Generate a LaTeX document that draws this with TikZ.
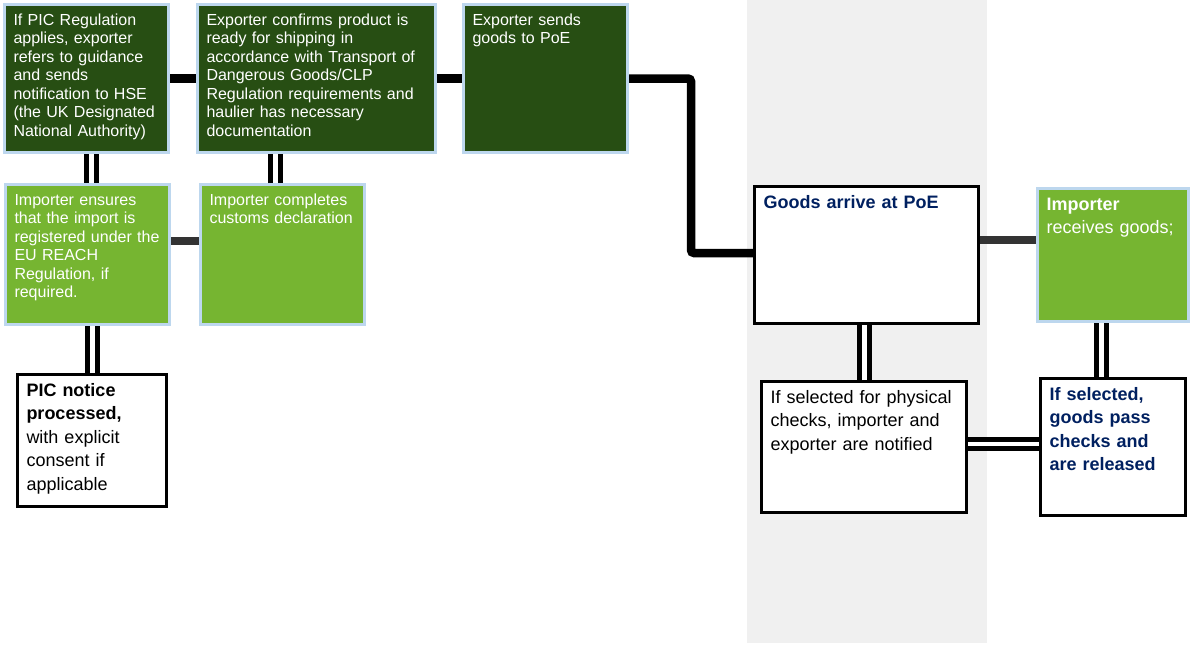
\documentclass[tikz,border=0pt]{standalone}
\usepackage{fontspec}
\setmainfont{Liberation Sans}
\usepackage{xcolor}
\usepackage{tikz}
\usetikzlibrary{positioning}
\definecolor{expgreen}{HTML}{274E13}
\definecolor{impgreen}{HTML}{76B531}
\definecolor{edgeblue}{HTML}{BDD7EE}
\definecolor{poeband}{HTML}{F0F0F0}
\definecolor{navytxt}{HTML}{002060}
\definecolor{linkgrey}{HTML}{333333}

\begin{document}
\begin{tikzpicture}[x=1pt, y=-1pt,
  stepbox/.style={anchor=north west, align=left, inner xsep=9pt, inner ysep=8.5pt,
                  line width=3pt},
  expbox/.style={stepbox, draw=edgeblue, fill=expgreen, text=white,
                 font=\fontsize{16}{18.5}\selectfont, text height=12pt},
  impbox/.style={stepbox, draw=edgeblue, fill=impgreen, text=white,
                 font=\fontsize{16}{18.5}\selectfont, text height=12pt},
  outbox/.style={stepbox, draw=black, fill=white,
                 font=\fontsize{18}{23.5}\selectfont, text height=13pt},
  link/.style={line width=8.5pt},
  twin/.style={line width=5pt, double=white, double distance=5pt},
]
  \useasboundingbox (0,0) rectangle (1190,648);
  \fill[poeband] (747,0) rectangle (987,643);

  % Exporter side
  \node[expbox, text width=146pt, text depth=119pt] (picreg) at (3,3)
    {If PIC Regulation\\ applies, exporter\\ refers to guidance\\ and sends\\
     notification to HSE\\ (the UK Designated\\ National Authority)};
  \node[expbox, text width=220pt, text depth=119pt] (confirm) at (196,3)
    {Exporter confirms product is\\ ready for shipping in\\
     accordance with Transport of\\ Dangerous Goods/CLP\\
     Regulation requirements and\\ haulier has necessary\\ documentation};
  \node[expbox, text width=146pt, text depth=119pt] (sends) at (462,3)
    {Exporter sends\\ goods to PoE};

  % Importer side
  \node[impbox, text width=146pt, text depth=111pt] (reach) at (4,183)
    {Importer ensures\\ that the import is\\ registered under the\\
     EU REACH\\ Regulation, if\\ required.};
  \node[impbox, text width=146pt, text depth=111pt] (customs) at (199,183)
    {Importer completes\\ customs declaration};
  \node[outbox, text width=131pt, text depth=102pt] (picnote) at (16,373)
    {\textbf{PIC notice}\\ \textbf{processed,}\\ with explicit\\ consent if\\ applicable};

  % Port of entry
  \node[outbox, text width=206pt, text depth=107pt, text=navytxt] (arrive) at (753,185)
    {\textbf{Goods arrive at PoE}};
  \node[outbox, text width=187pt, text depth=101pt] (physical) at (760,380)
    {If selected for physical\\ checks, importer and\\ exporter are notified};
  \node[impbox, font=\fontsize{18}{23.5}\selectfont, text height=13pt,
        text width=133pt, text depth=103pt] (receive) at (1036,187)
    {\textbf{Importer}\\ receives goods;};
  \node[outbox, text width=127pt, text depth=107pt, text=navytxt] (release) at (1039,377)
    {\textbf{If selected,}\\ \textbf{goods pass}\\ \textbf{checks and}\\ \textbf{are released}};

  % Connectors
  \draw[link] (picreg.east) -- (confirm.west);
  \draw[link] (confirm.east) -- (sends.west);
  \draw[link, rounded corners=3pt] (sends.east) -- ++(62,0) |- ([yshift=2pt]arrive.west);
  \draw[link, linkgrey] ([yshift=13.5pt]reach.east) -- ([yshift=13.5pt]customs.west);
  \draw[link, linkgrey] ([yshift=15pt]arrive.east) -- ([yshift=15pt]receive.west);

  \draw[twin] ([xshift=5pt]picreg.south) -- ([xshift=5pt]picreg.south |- reach.north);
  \draw[twin] ([xshift=-7pt]customs.north) -- ([xshift=-7pt]customs.north |- confirm.south);
  \draw[twin] (picnote.north) -- (picnote.north |- reach.south);
  \draw[twin] (physical.north) -- (physical.north |- arrive.south);
  \draw[twin] ([xshift=-11.5pt]release.north) -- ([xshift=-11.5pt]release.north |- receive.south);
  \draw[twin, double distance=3.5pt] ([yshift=3pt]physical.east) -- ([yshift=3pt]physical.east -| release.west);
\end{tikzpicture}
\end{document}
